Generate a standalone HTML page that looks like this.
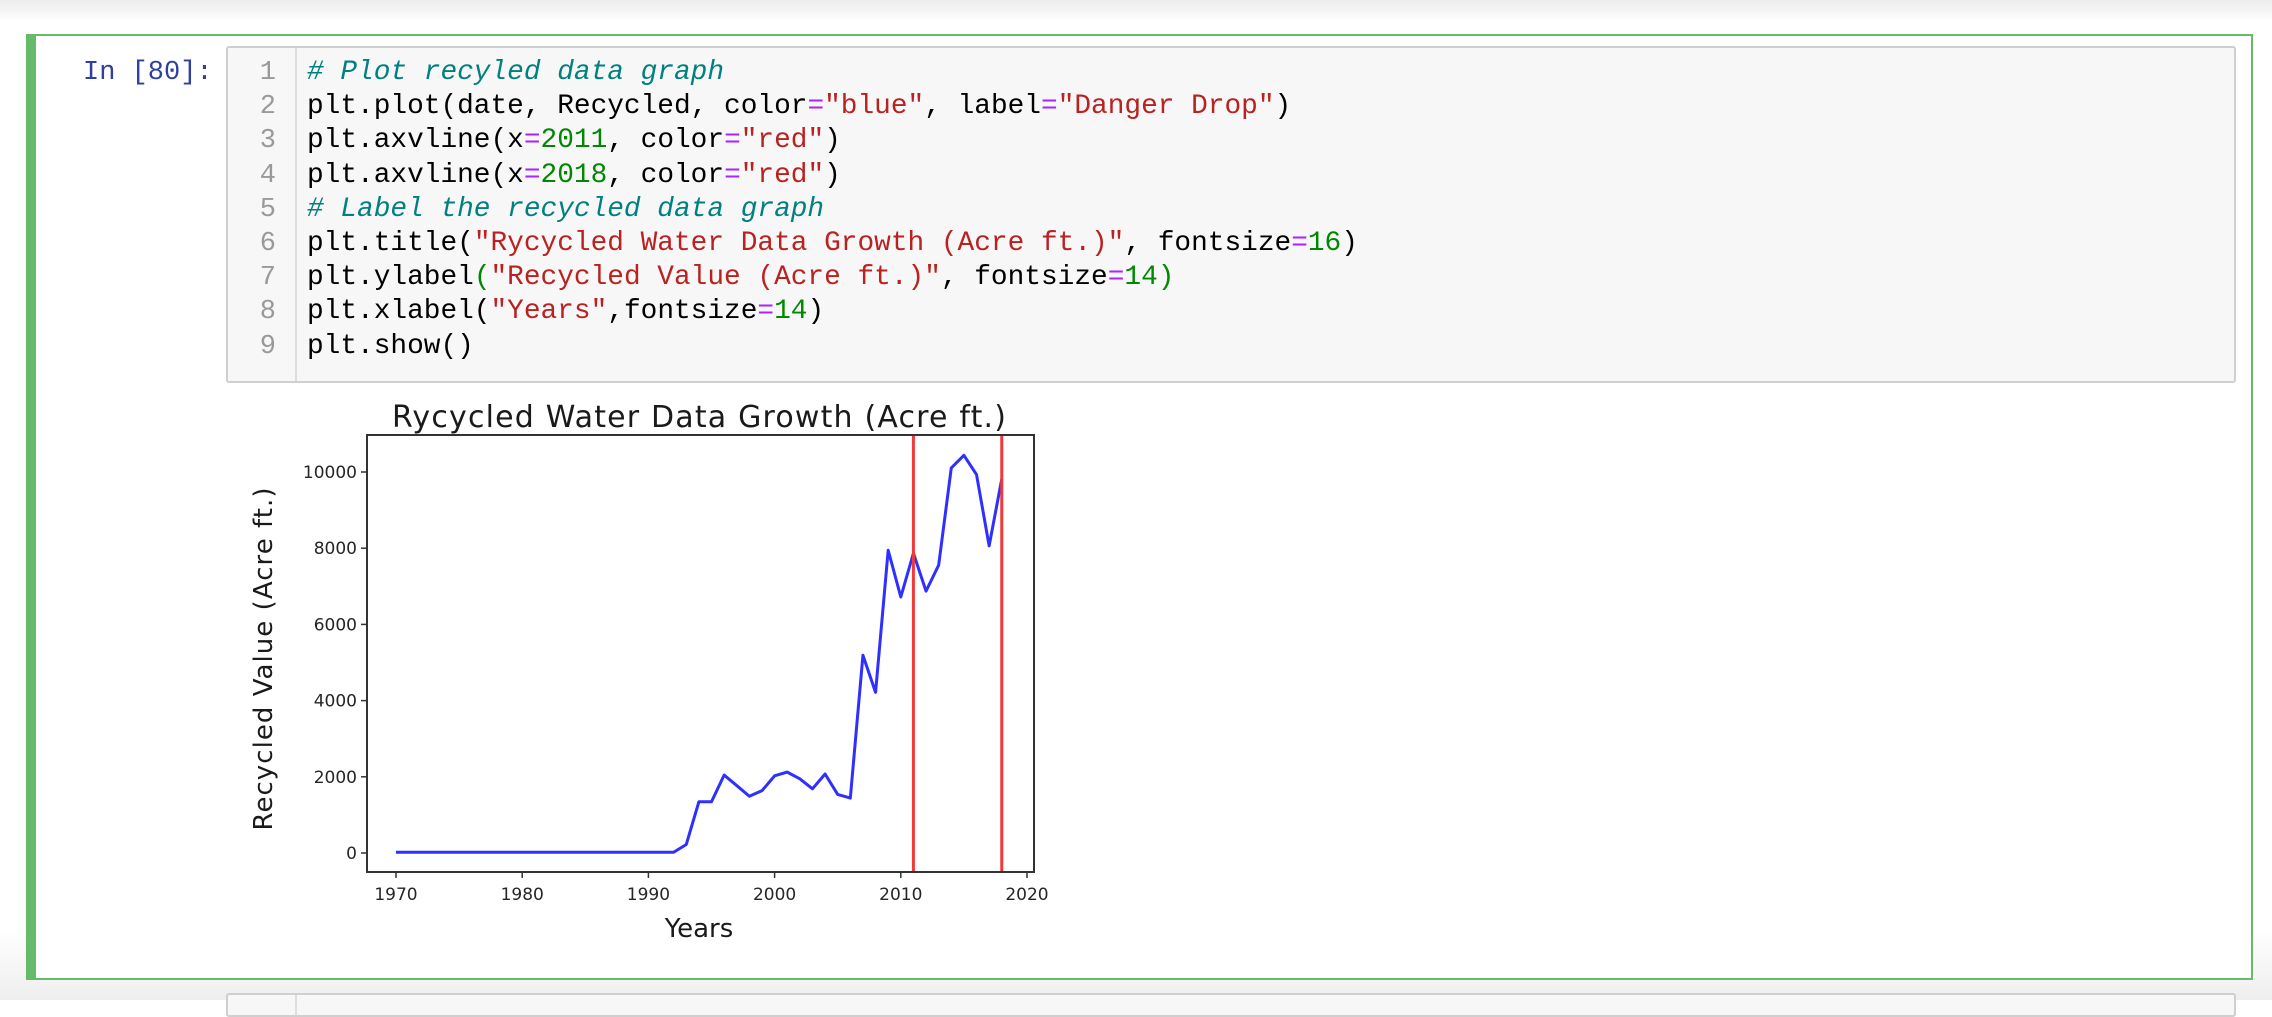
<!DOCTYPE html>
<html><head><meta charset="utf-8"><style>
body{margin:0;width:2272px;height:1000px;overflow:hidden;background:#fff;position:relative;font-family:"Liberation Sans",sans-serif}
.topbar{position:absolute;left:0;top:0;width:2272px;height:22px;background:linear-gradient(#ececec,#fff)}
.bottombg{position:absolute;left:0;top:930px;width:2272px;height:70px;background:linear-gradient(#fff,#eee)}
.cell{position:absolute;left:26px;top:34px;width:2215px;height:942px;border:2px solid #66bb6a;border-left:10px solid #66bb6a;background:#fff;box-sizing:content-box}
.prompt{position:absolute;left:83px;top:58px;font:27px "Liberation Mono",monospace;color:#303f9f}
.input{position:absolute;left:226px;top:46px;width:2006px;height:333px;background:#f7f7f7;border:2px solid #cfcfcf;border-radius:3px}
.gutter{position:absolute;left:0;top:0;width:67px;height:333px;border-right:2px solid #ddd}
.ln{position:absolute;font:27px "Liberation Mono",monospace;color:#999;text-align:right;width:40px}
.code{position:absolute;left:81px;font:27.8px "Liberation Mono",monospace;color:#000;white-space:pre}
.c{color:#008080;font-style:italic}.s{color:#ba2121}.n{color:#080}.o{color:#aa22ff}
.nextbox{position:absolute;left:226px;top:993px;width:2006px;height:20px;background:#f7f7f7;border:2px solid #cfcfcf;border-radius:3px}
.nextbox div{position:absolute;left:67px;top:0;height:20px;border-left:2px solid #ddd}
</style></head><body>
<div class="topbar"></div>
<div class="bottombg"></div>
<div class="cell"></div>
<div class="prompt">In [80]:</div>
<div class="input">
<div class="gutter"></div>
</div>
<div id="lines"></div>
<div class="nextbox"><div></div></div>
<svg id="chart" width="2272" height="1000" style="position:absolute;left:0;top:0"></svg>
<script>
const codeLines=[
'<span class="c"># Plot recyled data graph</span>',
'plt.plot(date, Recycled, color<span class="o">=</span><span class="s">"blue"</span>, label<span class="o">=</span><span class="s">"Danger Drop"</span>)',
'plt.axvline(x<span class="o">=</span><span class="n">2011</span>, color<span class="o">=</span><span class="s">"red"</span>)',
'plt.axvline(x<span class="o">=</span><span class="n">2018</span>, color<span class="o">=</span><span class="s">"red"</span>)',
'<span class="c"># Label the recycled data graph</span>',
'plt.title(<span class="s">"Rycycled Water Data Growth (Acre ft.)"</span>, fontsize<span class="o">=</span><span class="n">16</span>)',
'plt.ylabel<span class="n">(</span><span class="s">"Recycled Value (Acre ft.)"</span>, fontsize<span class="o">=</span><span class="n">14)</span>',
'plt.xlabel(<span class="s">"Years"</span>,fontsize<span class="o">=</span><span class="n">14</span>)',
'plt.show()'];
const box=document.getElementById('lines');
codeLines.forEach((h,i)=>{
  const y=58+i*34.2;
  const n=document.createElement('div');n.className='ln';
  n.style.left='236px';n.style.top=y+'px';
  n.textContent=i+1;
  
  
  box.appendChild(n);
  const d=document.createElement('div');d.className='code';
  d.style.cssText='position:absolute;left:307px;top:'+(y-1)+'px';
  d.innerHTML=h;
  
  
  box.appendChild(d);
});
</script>
<script>
const years=[1970,1971,1972,1973,1974,1975,1976,1977,1978,1979,1980,1981,1982,1983,1984,1985,1986,1987,1988,1989,1990,1991,1992,1993,1994,1995,1996,1997,1998,1999,2000,2001,2002,2003,2004,2005,2006,2007,2008,2009,2010,2011,2012,2013,2014,2015,2016,2017,2018];
const recycled=[20,20,20,20,20,20,20,20,20,20,20,20,20,20,20,20,20,20,20,20,20,20,20,224,1344,1344,2045,1770,1490,1636,2025,2123,1947,1685,2074,1538,1441,5190,4216,7946,6719,7868,6874,7556,10107,10438,9932,8062,9815];
const vlines=[2011,2018];
const xTicks=[1970,1980,1990,2000,2010,2020];
const yTicks=[0,2000,4000,6000,8000,10000];
const L=367,R=1034,T=435,B=872;
const X=v=>396+(v-1970)*(1027-396)/50;
const Y=v=>853-v*(853-472)/10000;
const ns='http://www.w3.org/2000/svg',svg=document.getElementById('chart');
function mk(t,a){const e=document.createElementNS(ns,t);for(const k in a)e.setAttribute(k,a[k]);svg.appendChild(e);return e;}
const pts=years.map((y,i)=>X(y)+','+Y(recycled[i])).join(' ');
const ln=mk('polyline',{points:pts,fill:'none',stroke:'#2f2fff','stroke-width':3,'stroke-linejoin':'round'});


vlines.forEach(v=>{const l=mk('line',{x1:X(v),x2:X(v),y1:T,y2:B,stroke:'#f03a3a','stroke-width':3});

});
const fr=mk('rect',{x:L,y:T,width:R-L,height:B-T,fill:'none',stroke:'#333','stroke-width':2});


xTicks.forEach(v=>{mk('line',{x1:X(v),x2:X(v),y1:B,y2:B+6,stroke:'#333','stroke-width':1.5});
const t=mk('text',{x:X(v),y:B+28,'text-anchor':'middle','font-size':17,fill:'#262626','font-family':'DejaVu Sans,sans-serif'});t.textContent=v;

});
yTicks.forEach(v=>{mk('line',{x1:L-6,x2:L,y1:Y(v),y2:Y(v),stroke:'#333','stroke-width':1.5});
const t=mk('text',{x:L-10,y:Y(v)+6,'text-anchor':'end','font-size':17,fill:'#262626','font-family':'DejaVu Sans,sans-serif'});t.textContent=v;

});
const ti=mk('text',{x:699,y:427,'text-anchor':'middle','font-size':30,fill:'#1a1a1a','font-family':'DejaVu Sans,sans-serif',textLength:614});ti.textContent='Rycycled Water Data Growth (Acre ft.)';


const xl=mk('text',{x:699,y:937,'text-anchor':'middle','font-size':26,fill:'#1a1a1a','font-family':'DejaVu Sans,sans-serif'});xl.textContent='Years';


const yl=mk('text',{x:0,y:0,'text-anchor':'middle','font-size':26,fill:'#1a1a1a','font-family':'DejaVu Sans,sans-serif',textLength:343,transform:'translate(272,659) rotate(-90)'});yl.textContent='Recycled Value (Acre ft.)';


</script>
</body></html>
